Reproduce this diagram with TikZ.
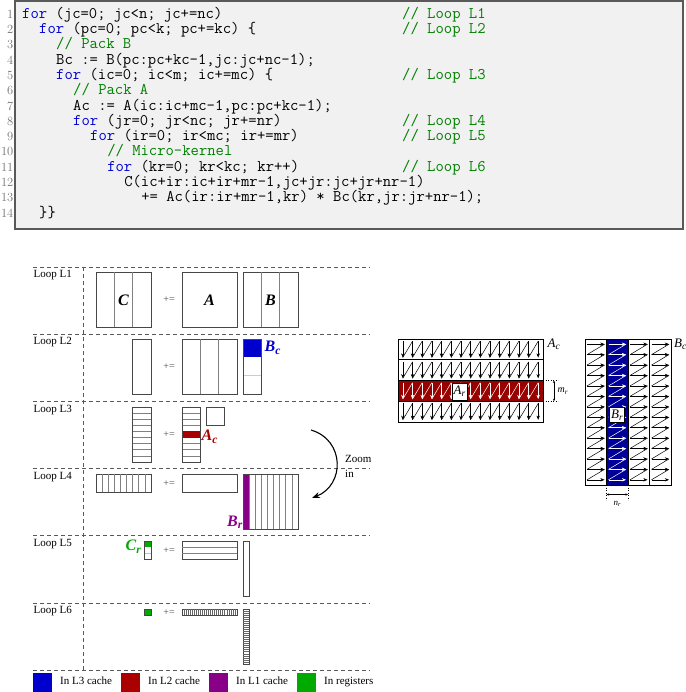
\documentclass[tikz,border=0pt]{standalone}
\usepackage{fontspec}
\usepackage{graphicx}
\usetikzlibrary{arrows.meta,calc}
\newfontfamily\serfont{Liberation Serif}
\definecolor{kwblue}{RGB}{0,0,210}
\definecolor{cmtgreen}{RGB}{0,128,0}
\definecolor{codebg}{RGB}{241,241,241}
\definecolor{lthree}{RGB}{0,0,204}
\definecolor{ltwo}{RGB}{170,0,0}
\definecolor{lone}{RGB}{136,0,136}
\definecolor{lreg}{RGB}{0,170,0}
\definecolor{acred}{RGB}{153,0,0}
\definecolor{brblue}{RGB}{0,0,153}
\newcommand\kw[1]{\textcolor{kwblue}{#1}}
\newcommand\cmt[1]{\textcolor{cmtgreen}{#1}}
\newcommand\subs[1]{\raisebox{-.4ex}{\scalebox{.72}{#1}}}
\newcommand\vgrid[3][black!50]{%
  \pgfmathtruncatemacro\glast{#3-1}%
  \foreach \g in {1,...,\glast}
    \draw[line width=.6pt, #1] ($(#2.north west)!\g/#3!(#2.north east)$) -- ($(#2.south west)!\g/#3!(#2.south east)$);}
\newcommand\hgrid[3][black!50]{%
  \pgfmathtruncatemacro\glast{#3-1}%
  \foreach \g in {1,...,\glast}
    \draw[line width=.6pt, #1] ($(#2.north west)!\g/#3!(#2.south west)$) -- ($(#2.north east)!\g/#3!(#2.south east)$);}

\begin{document}
\begin{tikzpicture}[x=1pt, y=-1pt,
  code/.style={anchor=base west, inner sep=0, font=\fontsize{16.2}{18}\selectfont\ttfamily\addfontfeatures{FakeBold=0.6}},
  lnum/.style={anchor=base east, inner sep=0, text=black!55, font=\fontsize{12.5}{12}\selectfont},
  pnl/.style={draw=black!72, line width=.9pt, anchor=north west, inner sep=0, outer sep=0},
  edge/.style={draw=black!72, line width=.9pt},
  sep/.style={black!65, line width=.8pt, dash pattern=on 4pt off 3pt},
  lbl/.style={inner sep=0, font=\serfont\fontsize{11}{13}\selectfont},
  pe/.style={inner sep=0, text=black!70, font=\serfont\fontsize{10}{12}\selectfont},
  mlbl/.style={inner sep=0, font=\serfont\bfseries\itshape\fontsize{16}{18}\selectfont},
  rlbl/.style={inner sep=0, font=\serfont\itshape\fontsize{13}{15}\selectfont},
  zig/.style={line width=.5pt, -{Stealth[length=4.2pt,width=3.4pt]}},
  dim/.style={line width=.4pt, {Stealth[length=2.6pt,width=2.2pt]}-{Stealth[length=2.6pt,width=2.2pt]}},
  swatch/.style={anchor=north west, minimum size=19pt, inner sep=0, outer sep=0}]
\useasboundingbox (0,0) rectangle (685,692);

\node[draw=black!65, line width=1.3pt, fill=codebg, anchor=north west, minimum width=668pt,
  minimum height=228pt, inner sep=0, outer sep=0] (listing) at (15,1) {};
\foreach \row/\ind/\txt in {
    1/0/{\kw{for} (jc=0; jc<n; jc+=nc)},
    2/2/{\kw{for} (pc=0; pc<k; pc+=kc) \{},
    3/4/{\cmt{// Pack B}},
    4/4/{Bc := B(pc:pc+kc-1,jc:jc+nc-1);},
    5/4/{\kw{for} (ic=0; ic<m; ic+=mc) \{},
    6/6/{\cmt{// Pack A}},
    7/6/{Ac := A(ic:ic+mc-1,pc:pc+kc-1);},
    8/6/{\kw{for} (jr=0; jr<nc; jr+=nr)},
    9/8/{\kw{for} (ir=0; ir<mc; ir+=mr)},
    10/10/{\cmt{// Micro-kernel}},
    11/10/{\kw{for} (kr=0; kr<kc; kr++)},
    12/12/{C(ic+ir:ic+ir+mr-1,jc+jr:jc+jr+nr-1)},
    13/14/{+= Ac(ir:ir+mr-1,kr) * Bc(kr,jr:jr+nr-1);},
    14/2/{\}\}}}{
  \pgfmathsetmacro\yb{18.3+(\row-1)*15.3}
  \node[lnum] (num\row) at (13.5,\yb) {\row};
  \node[code] (line\row) at (22+\ind*8.505,\yb) {\txt};
}
\foreach \row/\lp in {1/L1, 2/L2, 5/L3, 8/L4, 9/L5, 11/L6}{
  \pgfmathsetmacro\yb{18.3+(\row-1)*15.3}
  \node[code] (cmt\row) at (402,\yb) {\cmt{// Loop \lp}};
}

\foreach \i in {0,...,6}
  \draw[sep] (33,267+\i*67.2) -- (370,267+\i*67.2);
\draw[sep] (83,267) -- (83,670.2);
\foreach \i in {1,...,6}
  \node[lbl, anchor=base west] (loop\i) at (33.5,210.4+\i*67.2) {Loop L\i};

\foreach \nm/\x/\y/\w/\h in {
    c1/96/272/55/55, a1/182/272/55/55, b1/243/272/55/55,
    c2/132.7/339/18.3/55, a2/182/339/55/55, b2/243/339/18.3/55,
    c3/132.7/407/18.3/55, a3/182/407/18.3/55, b3/206/407/18.3/18.3,
    c4/96/474/55/18.3, a4/182/474/55/18.3, b4/243/474/55/55,
    c5/144.9/541/6.1/18.3, a5/182/541/55/18.3, b5/243/541/6.1/55,
    c6/144.9/609/6.1/6.1, a6/182/609/55/6.1, b6/243/609/6.1/55}
  \node[pnl, minimum width=\w pt, minimum height=\h pt] (\nm) at (\x,\y) {};
\vgrid{c1}{3} \vgrid{b1}{3} \vgrid{a2}{3}
\hgrid{c3}{9} \hgrid{a3}{9} \vgrid{c4}{9} \vgrid{b4}{9}
\hgrid{a5}{3} \vgrid[black!60]{a6}{27} \hgrid[black!60]{b6}{27}
\draw[black!20, line width=.6pt] ($(b2.north west)!2/3!(b2.south west)$) -- ($(b2.north east)!2/3!(b2.south east)$);
\draw[black!25, line width=.6pt] ($(c5.north west)!2/3!(c5.south west)$) -- ($(c5.north east)!2/3!(c5.south east)$);
\fill[lthree] (b2.north west) rectangle ($(b2.north east)!1/3!(b2.south east)$);
\fill[ltwo] ($(a3.north west)!4/9!(a3.south west)$) rectangle ($(a3.north east)!5/9!(a3.south east)$);
\fill[lone] (b4.north west) rectangle ($(b4.south west)!1/9!(b4.south east)$);
\fill[lreg] (c5.north west) rectangle ($(c5.north east)!1/3!(c5.south east)$);
\fill[lreg] (c6.north west) rectangle (c6.south east);
\foreach \nm in {b2,a3,b4,c5,c6}
  \draw[edge] (\nm.north west) rectangle (\nm.south east);

\node[mlbl] (lblc) at (123.5,300) {C};
\node[mlbl] (lbla) at (209.5,300) {A};
\node[mlbl] (lblb) at (270.5,300) {B};
\node[mlbl, text=lthree, anchor=base west] (lblbc) at (264.5,351.7) {B\subs{c}};
\node[mlbl, text=ltwo, anchor=base west] (lblac) at (201.5,440.5) {A\subs{c}};
\node[mlbl, text=lone, anchor=base east] (lblbr) at (242.5,526) {B\subs{r}};
\node[mlbl, text=lreg, anchor=base east] (lblcr) at (141,550.7) {C\subs{r}};
\foreach \y [count=\i] in {300,367,435,484,551,613}
  \node[pe] (pe\i) at (169,\y) {+=};

\coordinate (zs) at (311,430);
\coordinate (ze) at (312,498);
\draw[line width=1.1pt, -{Stealth[length=8pt,width=6pt]}] (zs) .. controls (345,440) and (345,485) .. (ze);
\node[lbl, anchor=base west] (zoomw) at (345,462.3) {Zoom};
\node[lbl, anchor=base west] (zoomi) at (345,477) {in};

\foreach \x/\col/\lbl in {33/lthree/L3 cache, 121/ltwo/L2 cache, 209/lone/L1 cache, 297/lreg/registers}{
  \node[swatch, fill=\col] (sw\col) at (\x,673) {};
  \node[lbl, anchor=base west] (tx\col) at (\x+27,684) {In \lbl};
}

\node[pnl, draw=black, minimum width=145pt, minimum height=83pt] (acblk) at (398,339) {};
\fill[acred] ($(acblk.north west)!.5!(acblk.south west)$) rectangle ($(acblk.north east)!.75!(acblk.south east)$);
\foreach \rr in {0,...,3}{
  \pgfmathsetmacro\ta{339+\rr*20.75+2.2}
  \pgfmathsetmacro\tb{339+(\rr+1)*20.75-2.2}
  \ifnum\rr=2 \def\zc{white}\else\def\zc{black}\fi
  \foreach \i in {0,...,14}{
    \pgfmathsetmacro\xa{398+(\i+.5)*9.667}
    \draw[zig, \zc] (\xa,\ta) -- (\xa,\tb);
    \ifnum\i<14 \draw[line width=.5pt, \zc] (\xa,\tb) -- (\xa+9.667,\ta);\fi
  }
}
\hgrid[black, line width=.9pt]{acblk}{4}
\draw[black, line width=1pt] (acblk.north west) rectangle (acblk.south east);
\node[draw, fill=white, line width=.5pt, rlbl, inner sep=1.5pt, minimum height=17pt] (arbox) at (459.5,391.3) {A\subs{r}};
\node[rlbl, anchor=base west] (lblacr) at (547.5,347.5) {A\subs{c}};
\draw[dotted, line width=.5pt] (543,380.5) -- (558,380.5);
\draw[dotted, line width=.5pt] (543,401.25) -- (558,401.25);
\coordinate (mrt) at (554,380.5);
\coordinate (mrb) at (554,401.25);
\draw[dim] (mrt) -- (mrb);
\node[rlbl, font=\serfont\itshape\fontsize{10}{10}\selectfont, anchor=west] (mr) at (557.5,391) {m\subs{r}};

\node[pnl, draw=black, minimum width=86pt, minimum height=146pt] (bcblk) at (585,339) {};
\fill[brblue] ($(bcblk.north west)!.25!(bcblk.north east)$) rectangle ($(bcblk.south west)!.5!(bcblk.south east)$);
\foreach \cc in {0,...,3}{
  \pgfmathsetmacro\xa{585+\cc*21.5+2}
  \pgfmathsetmacro\xb{585+(\cc+1)*21.5-2}
  \ifnum\cc=1 \def\zc{white}\else\def\zc{black}\fi
  \foreach \j in {0,...,13}{
    \pgfmathsetmacro\ya{339+(\j+.5)*10.43}
    \draw[zig, \zc] (\xa,\ya) -- (\xb,\ya);
    \ifnum\j<13 \draw[line width=.5pt, \zc] (\xb,\ya) -- (\xa,\ya+10.43);\fi
  }
}
\vgrid[black, line width=.9pt]{bcblk}{4}
\draw[black, line width=1pt] (bcblk.north west) rectangle (bcblk.south east);
\node[draw, fill=white, line width=.5pt, rlbl, inner sep=1.5pt, minimum height=15pt] (brbox) at (617,415) {B\subs{r}};
\node[rlbl, anchor=base west] (lblbcr) at (674,347.5) {B\subs{c}};
\draw[dotted, line width=.5pt] (606.5,485) -- (606.5,500);
\draw[dotted, line width=.5pt] (628,485) -- (628,500);
\coordinate (nrl) at (606.5,494.5);
\coordinate (nrr) at (628,494.5);
\draw[dim] (nrl) -- (nrr);
\node[rlbl, font=\serfont\itshape\fontsize{9}{9}\selectfont] (nr) at (617,504) {n\subs{r}};
\end{tikzpicture}
\end{document}
